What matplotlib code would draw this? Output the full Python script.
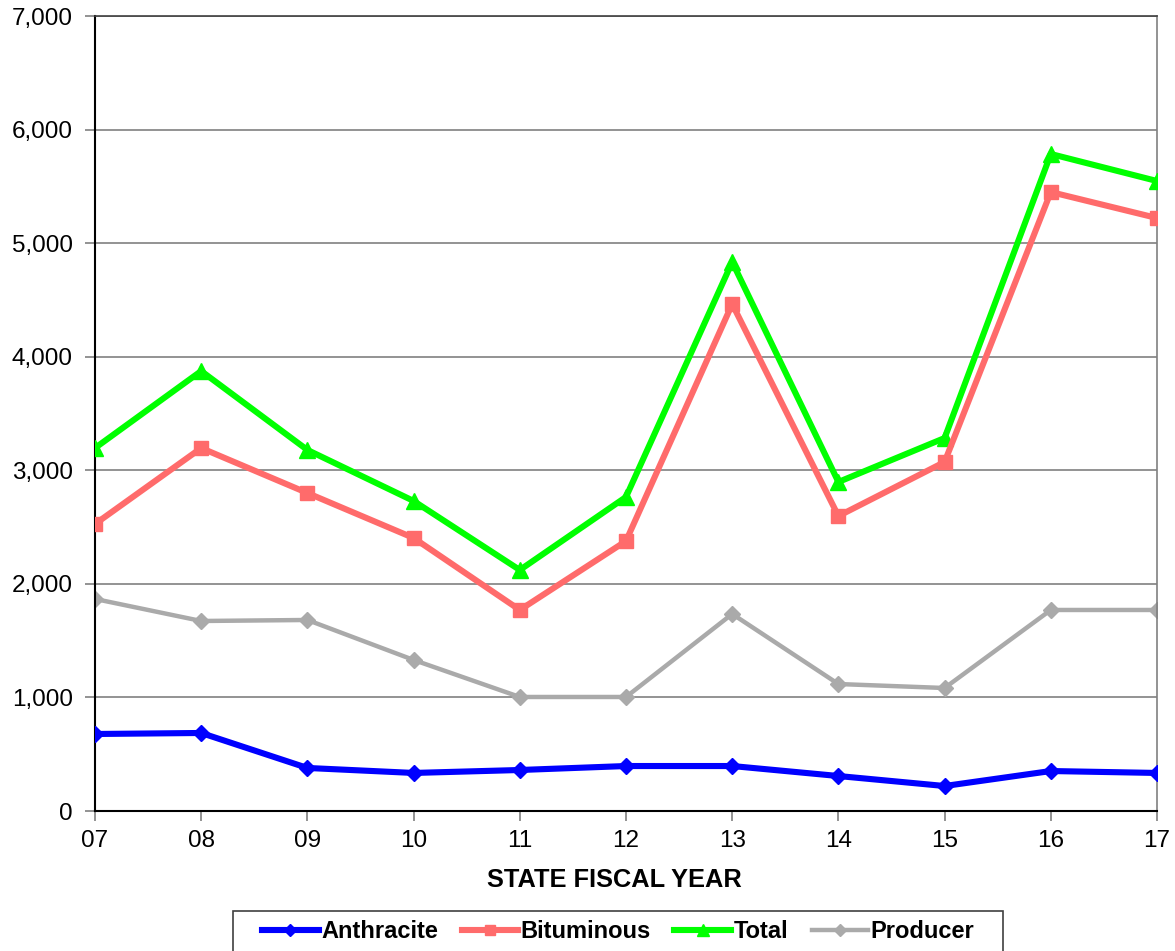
import matplotlib
matplotlib.use("Agg")
import matplotlib.pyplot as plt
from matplotlib.patches import Rectangle
from matplotlib.ticker import FuncFormatter

plt.rcParams['font.family'] = ['Liberation Sans', 'DejaVu Sans']

years = ["07", "08", "09", "10", "11", "12", "13", "14", "15", "16", "17"]
anthracite = [678, 687, 379, 335, 361, 396, 396, 308, 220, 352, 335]
bituminous = [2527, 3196, 2800, 2404, 1770, 2377, 4464, 2597, 3073, 5450, 5221]
total = [3196, 3874, 3179, 2730, 2122, 2765, 4834, 2897, 3284, 5785, 5547]
producer = [1867, 1673, 1682, 1330, 1004, 1004, 1735, 1118, 1083, 1770, 1770]

W, H = 1175, 951
fig = plt.figure(figsize=(W / 100, H / 100), dpi=100)
ax = fig.add_axes([95 / W, 1 - 811 / H, (1157 - 95) / W, (811 - 16) / H])

x = list(range(len(years)))
lw = 4.4
ax.plot(x, anthracite, color='#0000FF', lw=lw, marker='D', ms=8.5, label='Anthracite', zorder=5)
ax.plot(x, bituminous, color='#FF6B6B', lw=lw, marker='s', ms=10.5, label='Bituminous', zorder=4)
ax.plot(x, total, color='#00FF00', lw=lw, marker='^', ms=11, label='Total', zorder=3)
ax.plot(x, producer, color='#AAAAAA', lw=3.2, marker='D', ms=8.5, label='Producer', zorder=2)

ax.set_xlim(0, len(years) - 1)
ax.set_ylim(0, 7000)
ax.set_yticks(range(0, 7001, 1000))
ax.yaxis.set_major_formatter(FuncFormatter(lambda v, p: f"{int(v):,}"))
ax.set_xticks(x)
ax.set_xticklabels(years)
ax.grid(axis='y', color='#808080', lw=1.2)
ax.set_axisbelow(True)

for side in ['left', 'bottom']:
    ax.spines[side].set_color('black')
    ax.spines[side].set_linewidth(1.5)
ax.spines['top'].set_color('#404040')
ax.spines['top'].set_linewidth(1.2)
ax.spines['right'].set_color('#808080')
ax.spines['right'].set_linewidth(1.2)

ax.tick_params(axis='both', direction='out', length=7, width=1.2, color='#808080',
               labelsize=17.5)
ax.tick_params(axis='y', pad=9)
ax.tick_params(axis='x', pad=7)

ax.set_xlabel('STATE FISCAL YEAR', fontsize=18.3, fontweight='bold', va='center')
ax.xaxis.set_label_coords((614 - 95) / (1157 - 95), -(880 - 811) / (811 - 16))

# legend box along the bottom edge
fig.patches.append(Rectangle((233 / W, -0.02), (1003 - 233) / W, 0.02 + (1 - 911 / H),
                             transform=fig.transFigure, facecolor='white',
                             edgecolor='#404040', lw=1.2, zorder=1))
leg = fig.legend(loc='center left', bbox_to_anchor=(262 / W, 1 - 932 / H), ncol=4,
                 frameon=False, prop={'weight': 'bold', 'size': 17},
                 handlelength=2.4, handletextpad=0.1, columnspacing=1.0,
                 borderpad=0, borderaxespad=0, markerscale=0.75)
leg.set_zorder(3)

fig.savefig('out.png', dpi=100)
